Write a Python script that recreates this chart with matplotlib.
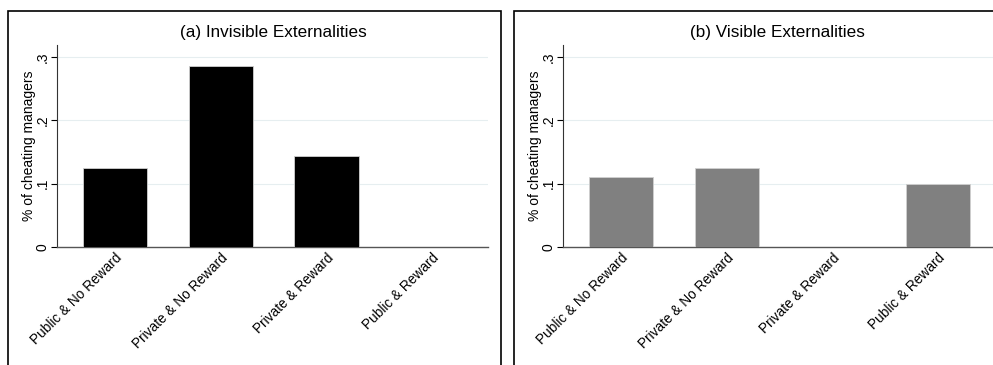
import matplotlib
matplotlib.use("Agg")
import matplotlib.pyplot as plt
from matplotlib.patches import Rectangle

plt.rcParams['font.family'] = ['Liberation Sans', 'DejaVu Sans']

# Datos
categorias_a = ["Public & No Reward", "Private & No Reward", "Private & Reward", "Public & Reward"]
valores_a = [0.125, 0.286, 0.143, 0.0]
categorias_b = ["Public & No Reward", "Private & No Reward", "Private & Reward", "Public & Reward"]
valores_b = [0.111, 0.125, 0.0, 0.1]
titulos = ["(a) Invisible Externalities", "(b) Visible Externalities"]
yticks = [0, 0.1, 0.2, 0.3]
ytick_labels = ["0", ".1", ".2", ".3"]

W, H = 993, 365
fig = plt.figure(figsize=(W / 100, H / 100), dpi=100)

# cajas de cada panel (px)
for x0, x1 in [(7.5, 500.5), (513.5, 1000)]:
    fig.patches.append(Rectangle((x0 / W, -0.1), (x1 - x0) / W, (H - 10.5) / H + 0.1,
                                 transform=fig.transFigure, fill=False,
                                 edgecolor="black", linewidth=1.2))

paneles = [
    (57, categorias_a, valores_a, "black", titulos[0], 273),
    (563, categorias_b, valores_b, "#808080", titulos[1], 777),
]

for ax_x, cats, vals, color, titulo, tx in paneles:
    ax = fig.add_axes([ax_x / W, (H - 247) / H, 431 / W, (247 - 45) / H])
    x = range(len(cats))
    ax.bar(x, vals, width=0.61, color=color, edgecolor="#d0d0d0", linewidth=0.6, zorder=3)
    ax.set_xlim(-0.55, 3.53)
    ax.set_ylim(0, 0.319)
    ax.set_yticks(yticks)
    ax.set_yticklabels(ytick_labels, rotation=90, va="center", fontsize=10)
    ax.set_xticks(list(x))
    ax.set_xticklabels(cats, rotation=45, ha="right", rotation_mode="anchor", fontsize=9.8)
    ax.tick_params(axis="x", length=0, pad=3)
    ax.tick_params(axis="y", length=4, width=0.8, pad=1.5)
    for v in yticks[1:]:
        ax.axhline(v, color="#e6eef0", linewidth=0.8, zorder=1)
    for s in ["top", "right"]:
        ax.spines[s].set_visible(False)
    ax.spines["left"].set_color("#333333")
    ax.spines["bottom"].set_color("#555555")
    ax.spines["bottom"].set_linewidth(1.0)
    ax.set_ylabel("% of cheating managers", fontsize=10)
    ax.yaxis.set_label_coords(-21 / 431, 0.5)
    fig.text(tx / W, (H - 33) / H, titulo, ha="center", va="center", fontsize=12.3)

fig.savefig("out.png", dpi=100)
